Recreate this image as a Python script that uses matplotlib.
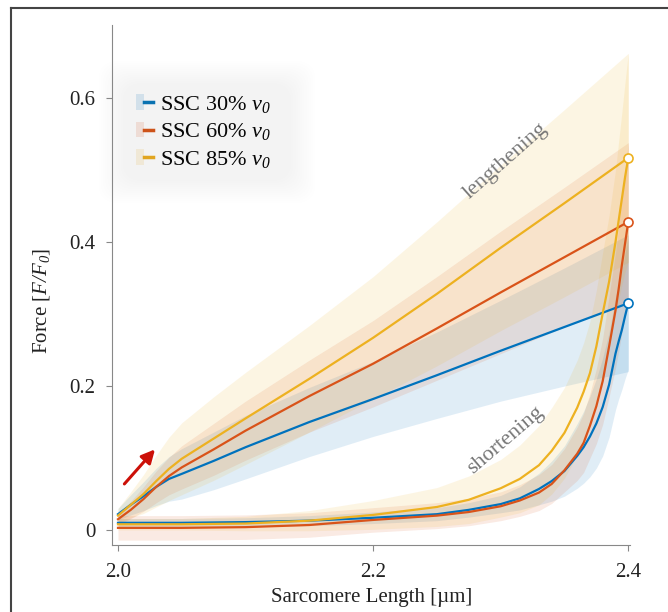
import matplotlib
matplotlib.use('Agg')
import numpy as np
import matplotlib.pyplot as plt
from matplotlib.patches import Patch, FancyBboxPatch
from matplotlib.lines import Line2D
from matplotlib.legend_handler import HandlerTuple

# ---------------- data ----------------
labels = ['SSC 30% $v_0$', 'SSC 60% $v_0$', 'SSC 85% $v_0$']
colors = ['#0072BD', '#D95319', '#EDB120']

# lengthening phase
x_len = [2.0, 2.01, 2.02, 2.03, 2.04, 2.05, 2.075, 2.1, 2.15, 2.2, 2.25, 2.3, 2.35, 2.4]
len_30 = [0.022, 0.035, 0.047, 0.060, 0.071, 0.078, 0.096, 0.115, 0.150, 0.182, 0.215, 0.249, 0.282, 0.315]
len_60 = [0.015, 0.028, 0.043, 0.060, 0.075, 0.087, 0.112, 0.138, 0.186, 0.231, 0.280, 0.330, 0.379, 0.428]
len_85 = [0.020, 0.035, 0.050, 0.068, 0.085, 0.099, 0.127, 0.155, 0.210, 0.267, 0.328, 0.392, 0.454, 0.517]
len_sd_30 = [0.008, 0.014, 0.020, 0.026, 0.031, 0.035, 0.040, 0.044, 0.048, 0.052, 0.060, 0.070, 0.082, 0.095]
len_sd_60 = [0.008, 0.012, 0.017, 0.022, 0.026, 0.030, 0.036, 0.041, 0.050, 0.060, 0.072, 0.085, 0.097, 0.110]
len_sd_85 = [0.010, 0.018, 0.027, 0.036, 0.044, 0.050, 0.058, 0.064, 0.074, 0.085, 0.100, 0.115, 0.130, 0.145]

# shortening phase
x_sho = [2.0, 2.05, 2.1, 2.15, 2.2, 2.25, 2.275, 2.3, 2.315, 2.33, 2.34, 2.35, 2.36, 2.365,
         2.37, 2.375, 2.38, 2.385, 2.39, 2.3925, 2.395, 2.3975, 2.4]
sho_30 = [0.010, 0.010, 0.011, 0.013, 0.017, 0.022, 0.028, 0.036, 0.044, 0.057, 0.068, 0.082, 0.103,
          0.115, 0.130, 0.148, 0.171, 0.202, 0.245, 0.262, 0.278, 0.297, 0.315]
sho_60 = [0.003, 0.003, 0.004, 0.007, 0.014, 0.020, 0.025, 0.033, 0.041, 0.052, 0.064, 0.083, 0.106,
          0.121, 0.145, 0.172, 0.207, 0.255, 0.305, 0.335, 0.368, 0.398, 0.428]
sho_85 = [0.008, 0.008, 0.009, 0.013, 0.021, 0.032, 0.042, 0.058, 0.071, 0.090, 0.110, 0.135, 0.170,
          0.192, 0.218, 0.255, 0.301, 0.345, 0.400, 0.430, 0.460, 0.490, 0.517]
sho_sd_30 = [0.006, 0.006, 0.006, 0.007, 0.008, 0.009, 0.010, 0.012, 0.016, 0.022, 0.028, 0.035, 0.045,
             0.050, 0.056, 0.062, 0.068, 0.073, 0.078, 0.080, 0.083, 0.087, 0.092]
sho_sd_60 = [0.017, 0.017, 0.017, 0.017, 0.017, 0.018, 0.019, 0.020, 0.022, 0.025, 0.027, 0.030, 0.037,
             0.041, 0.045, 0.052, 0.060, 0.070, 0.080, 0.087, 0.095, 0.102, 0.110]
sho_sd_85 = [0.008, 0.008, 0.010, 0.014, 0.020, 0.027, 0.033, 0.040, 0.047, 0.055, 0.060, 0.063, 0.066,
             0.068, 0.072, 0.078, 0.085, 0.092, 0.100, 0.110, 0.120, 0.132, 0.145]

len_means = [len_30, len_60, len_85]
len_sds = [len_sd_30, len_sd_60, len_sd_85]
sho_means = [sho_30, sho_60, sho_85]
sho_sds = [sho_sd_30, sho_sd_60, sho_sd_85]

# ---------------- style ----------------
plt.rcParams['font.family'] = ['Liberation Serif', 'DejaVu Serif']
plt.rcParams['mathtext.fontset'] = 'custom'
# all math text in this figure is italic (v0, F/F0), digits included
plt.rcParams['mathtext.rm'] = 'Liberation Serif:italic'
plt.rcParams['mathtext.it'] = 'Liberation Serif:italic'
plt.rcParams['font.size'] = 15

fig = plt.figure(figsize=(6.68, 6.12), dpi=100)
ax = fig.add_axes([112 / 668, 1 - 545 / 612, 529 / 668, 520 / 612])
ax.set_xlim(1.9953, 2.41)
ax.set_ylim(-0.0208, 0.7014)

# bands first
for xs, means, sds in [(x_len, len_means, len_sds), (x_sho, sho_means, sho_sds)]:
    for m, s, c in zip(means, sds, colors):
        m = np.array(m)
        s = np.array(s)
        ax.fill_between(xs, m - s, m + s, color=c, alpha=0.12, lw=0)

# mean lines
for i, c in enumerate(colors):
    ax.plot(x_len, len_means[i], color=c, lw=1.6, zorder=3)
    ax.plot(x_sho, sho_means[i], color=c, lw=1.6, zorder=3)
    ax.plot([x_len[-1]], [len_means[i][-1]], 'o', ms=6.5, mfc='white', mec=c,
            mew=1.2, zorder=5, clip_on=False)

# annotations
ax.text(2.3035, 0.512, 'lengthening', rotation=41.5, color='#777777', fontsize=16,
        ha='center', va='center')
ax.text(2.3035, 0.125, 'shortening', rotation=40.5, color='#777777', fontsize=16,
        ha='center', va='center')
ax.annotate('', xy=(2.029, 0.112), xytext=(2.005, 0.064),
            arrowprops=dict(arrowstyle='-|>', color='#CC1008', lw=2.2, mutation_scale=20,
                            shrinkA=0, shrinkB=0))

# axes styling
for sp in ['top', 'right']:
    ax.spines[sp].set_visible(False)
ax.spines['left'].set_color('#888888')
ax.spines['bottom'].set_color('#888888')
ax.spines['bottom'].set_bounds(1.9953, 2.4016)
ax.set_xticks([2.0, 2.2, 2.4])
ax.set_xticklabels(['2.0', '2.2', '2.4'])
ax.set_yticks([0, 0.2, 0.4, 0.6])
ax.set_yticklabels(['0', '0.2', '0.4', '0.6'])
ax.tick_params(direction='out', length=4, width=0.8, color='#888888',
               labelcolor='#222222', labelsize=15)
ax.tick_params(axis='x', pad=9)
ax.tick_params(axis='y', pad=8)
ax.set_xlabel('Sarcomere Length [µm]', fontsize=15, color='#222222')
ax.set_ylabel('Force [$F/F_0$]', fontsize=15, color='#222222')
ax.xaxis.set_label_coords(0.491, -0.083)
ax.yaxis.set_label_coords(-0.113, 0.47)

# legend with a soft glow behind it
for k in range(12):
    pad = 3 + k * 2.2
    glow = FancyBboxPatch((126 / 668, 1 - 178 / 612), 162 / 668, 92 / 612,
                          boxstyle='round,pad=%f,rounding_size=0.03' % (pad / 668),
                          transform=fig.transFigure, facecolor='#888888',
                          edgecolor='none', alpha=0.007, zorder=0.5)
    fig.patches.append(glow)
handles = [(Patch(facecolor=c, alpha=0.13, edgecolor='none'), Line2D([], [], color=c, lw=2.5))
           for c in colors]
leg = ax.legend(handles, labels, handler_map={tuple: HandlerTuple(ndivide=None, pad=0)},
                loc='upper left', bbox_to_anchor=(0.0284, 0.885), borderaxespad=0,
                frameon=True, facecolor='white', edgecolor='none', framealpha=1,
                handlelength=0.75, handletextpad=0.35, labelspacing=0.3, fontsize=16)

# outer figure frame (top and left edges)
fig.add_artist(Line2D([11 / 668, 1.0], [1 - 8 / 612, 1 - 8 / 612], transform=fig.transFigure,
                      color='#444444', lw=1.5))
fig.add_artist(Line2D([11 / 668, 11 / 668], [0, 1 - 8 / 612], transform=fig.transFigure,
                      color='#444444', lw=1.5))

fig.savefig('out.png', dpi=100)
